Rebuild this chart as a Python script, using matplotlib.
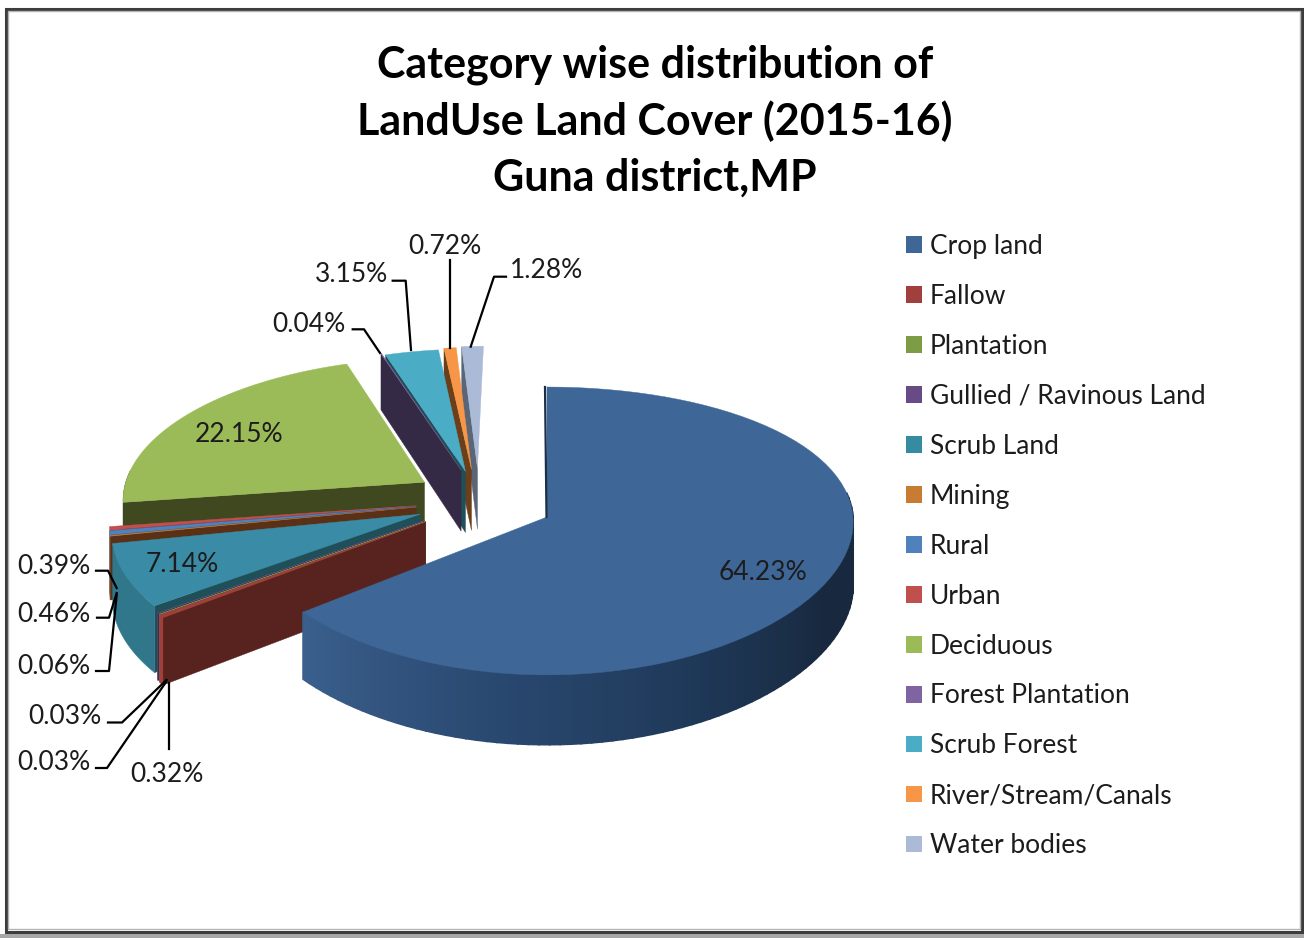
import matplotlib
matplotlib.use('Agg')
import matplotlib.pyplot as plt
import numpy as np
from matplotlib.colors import LinearSegmentedColormap
from matplotlib.patches import Patch, Rectangle

categories = ['Crop land', 'Fallow', 'Plantation', 'Gullied / Ravinous Land',
              'Scrub Land', 'Mining', 'Rural', 'Urban', 'Deciduous',
              'Forest Plantation', 'Scrub Forest', 'River/Stream/Canals',
              'Water bodies']
shares = [64.23, 0.32, 0.03, 0.03, 7.14, 0.06, 0.46, 0.39, 22.15, 0.04, 3.15,
          0.72, 1.28]

top_colors = ['#3E6797', '#A03F3C', '#7E9B45', '#674B87', '#3A8CA6', '#C97B33',
              '#4F81BD', '#C0504D', '#9BBB59', '#8064A2', '#4BACC6', '#F79646',
              '#AABAD7']
wall_colors = ['#1B3048', '#58231F', '#414F20', '#352A45', '#1F4F58', '#5A3116',
               '#2A4666', '#642826', '#40481F', '#352A45', '#1F4F58', '#6A3F1A',
               '#5A6578']
arc_colors = ['#24405F', '#A03F3C', '#6A843A', '#57407A', '#31778C', '#7A4A1E',
              '#426E9F', '#A54542', '#40481F', '#6D5589', '#3F93A9', '#D17F3A',
              '#8F9EB7']
legend_colors = top_colors[:4] + ['#358B9F'] + top_colors[5:]

# how far each slice is pulled out, in pie radii (x, depth)
shifts = [(0, 0), (-0.395, -0.035), (-0.395, -0.03), (-0.40, -0.025),
          (-0.415, 0.02), (-0.43, 0.07), (-0.43, 0.075), (-0.43, 0.08),
          (-0.41, 0.25), (-0.29, 0.34), (-0.275, 0.33), (-0.255, 0.345),
          (-0.235, 0.355)]

# label text centres and leader lines, in pixels
label_pos = [(763, 573), (167, 774), (65, 716), (54, 763), (182, 564), (54, 666),
             (54, 614), (54, 566), (239, 434), (309, 324), (351, 274), (445, 247),
             (547, 271)]
leaders = [None,
           [(169, 683), (169, 749)],
           [(108, 722.5), (122, 722.5), (166.5, 680)],
           [(96, 768), (107, 768), (166, 682)],
           None,
           [(96, 671), (109, 671), (116.7, 595)],
           [(97, 617.7), (109, 617.7), (116.7, 593)],
           [(96, 570.7), (108, 570.7), (116.7, 588)],
           None,
           [(352.7, 329.3), (364, 329.3), (380, 353)],
           [(392.7, 280.7), (405.7, 280.7), (411, 350)],
           [(450, 260), (450, 348)],
           [(506, 276.7), (494, 276.7), (470.7, 346.7)]]

CX, CY = 547, 517
RX, RY = 306, 142.6
PERSP = 0.097
PERSP_CROP_X = 0.035
THICK = 63

crop_wall = LinearSegmentedColormap.from_list(
    'crop_wall', ['#172A40', '#18293F', '#1F3A5A', '#2B4A72', '#3A5F8C'])


def project(u, v, kx=PERSP):
    den = 1 + PERSP * v
    return CX + RX * u / (1 + kx * v), CY - RY * v / den, THICK / den


def rim(a0, a1, shift, kx=PERSP):
    a = np.radians(np.linspace(a0, a1, 80))
    return project(shift[0] + np.sin(a), shift[1] + np.cos(a), kx)


fig = plt.figure(figsize=(13.04, 9.38), dpi=100)
ax = fig.add_axes([0, 0, 1, 1])
ax.set_xlim(0, 1304)
ax.set_ylim(938, 0)
ax.axis('off')

ax.add_patch(Rectangle((0, 934), 1304, 4, fc='#a8a8a8', ec='none'))
ax.add_patch(Rectangle((5.5, 9), 1296.5, 923, fc='white', ec='#3c3c3c', lw=2.2))
ax.add_patch(Rectangle((8, 11), 1292, 918.5, fc='none', ec='#b4b4b4', lw=1))

edges = np.cumsum([0] + shares) / sum(shares) * 360

# drawn from the back of the pie to the front
for i in reversed(range(len(shares))):
    a0, a1 = edges[i], edges[i + 1]
    kx = PERSP_CROP_X if i == 0 else PERSP
    ax0, ay0, at0 = project(*shifts[i])

    # radial wall on the start side
    if i > 0:
        x, y, t = rim(a0, a0, shifts[i])
        ax.fill([ax0, x[0], x[0], ax0], [ay0, y[0], y[0] + t[0], ay0 + at0],
                color=wall_colors[i], lw=0.3)

    # outer wall, only the part facing us
    lo, hi = max(a0, 80), min(a1, 275)
    if lo < hi:
        x, y, t = rim(lo, hi, shifts[i], kx)
        if i == 0:
            for j in range(len(x) - 1):
                ax.fill([x[j], x[j + 1], x[j + 1], x[j]],
                        [y[j], y[j + 1], y[j + 1] + t[j + 1], y[j] + t[j]],
                        color=crop_wall(j / (len(x) - 2)), lw=1.2)
        else:
            ax.fill(np.r_[x, x[::-1]], np.r_[y, (y + t)[::-1]],
                    color=arc_colors[i], lw=0.3)

    x, y, t = rim(a0, a1, shifts[i], kx)
    if i == 0:
        ax.plot([x[0] - 2, ax0 - 0.5], [y[0], ay0], color='#1B3048', lw=1.6)
    ax.fill(np.r_[ax0, x], np.r_[ay0, y], color=top_colors[i], lw=0.3)

text_color = '#1c1c1c'
for i, share in enumerate(shares):
    ax.text(label_pos[i][0], label_pos[i][1], f'{share:.2f}%', family='Lato',
            fontsize=19, color=text_color, ha='center', va='center')
    if leaders[i]:
        ax.plot(*zip(*leaders[i]), color='black', lw=1.6)

ax.text(655, 121, 'Category wise distribution of\nLandUse Land Cover (2015-16)\nGuna district,MP',
        family='Lato', weight='bold', fontsize=31, color='black', ha='center',
        va='center', linespacing=1.47)

handles = [Patch(fc=c, ec='none') for c in legend_colors]
ax.legend(handles, categories, loc='upper left', bbox_to_anchor=(906, 234),
          bbox_transform=ax.transData, frameon=False, borderpad=0, borderaxespad=0,
          labelspacing=0.945, handlelength=0.6, handleheight=0.6, handletextpad=0.3,
          prop={'family': 'Lato', 'size': 19}, labelcolor=text_color)

fig.savefig('out.png', dpi=100)
